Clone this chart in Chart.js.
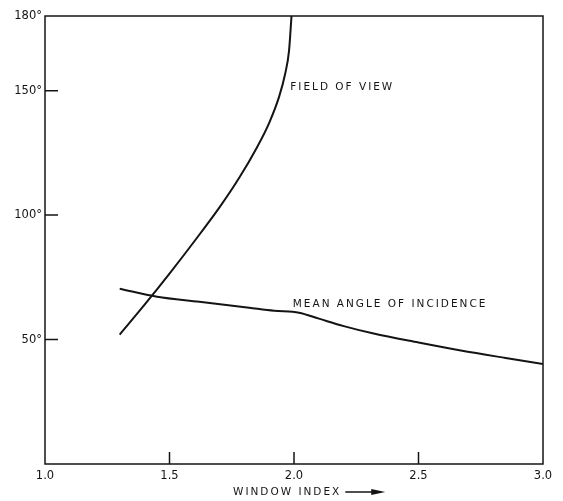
<!DOCTYPE html>
<html>
<head>
<meta charset="utf-8">
<script src="https://cdn.jsdelivr.net/npm/chart.js@4.4.1/dist/chart.umd.min.js"></script>
<style>
  html, body { margin: 0; padding: 0; background: #fff; }
  #wrap { width: 563px; height: 501px; }
</style>
</head>
<body>
<div id="wrap"><canvas id="myChart"></canvas></div>
<script>
// tick values
const xTicks = [1.0, 1.5, 2.0, 2.5, 3.0];
const yTicks = [50, 100, 150, 180];

// field of view curve
const fovIndex = [1.30, 1.40, 1.50, 1.60, 1.70, 1.78, 1.85, 1.90, 1.94, 1.965, 1.98, 1.99];
const fovAngle = [52, 64, 76.5, 89.5, 103, 115, 127, 137, 147.5, 157, 166, 180];

// mean angle of incidence curve
const meanIndex = [1.30, 1.45, 1.62, 1.82, 1.92, 2.02, 2.10, 2.20, 2.32, 2.50, 2.67, 2.85, 3.00];
const meanAngle = [70.4, 67.2, 65.2, 62.8, 61.6, 60.8, 58.4, 55.4, 52.4, 48.8, 45.6, 42.6, 40.2];

const INK = '#141414';
const FONT = '"DejaVu Sans", sans-serif';

const toPoints = (xs, ys) => xs.map((v, i) => ({ x: v, y: ys[i] }));

const framePlugin = {
  id: 'frame',
  afterDraw(chart) {
    const { ctx, chartArea: a, scales: { x, y } } = chart;
    ctx.save();
    ctx.strokeStyle = INK;
    ctx.lineWidth = 1.5;
    ctx.strokeRect(a.left, a.top, a.right - a.left, a.bottom - a.top);

    // inward tick marks
    ctx.beginPath();
    xTicks.slice(1, -1).forEach(v => {
      const px = x.getPixelForValue(v);
      ctx.moveTo(px, a.bottom);
      ctx.lineTo(px, a.bottom - 12);
    });
    yTicks.filter(v => v < 180).forEach(v => {
      const py = y.getPixelForValue(v);
      ctx.moveTo(a.left, py);
      ctx.lineTo(a.left + 13, py);
    });
    ctx.stroke();

    // curve labels
    ctx.fillStyle = INK;
    ctx.font = '10.5px ' + FONT;
    ctx.letterSpacing = '2px';
    ctx.textBaseline = 'middle';
    ctx.textAlign = 'left';
    ctx.fillText('FIELD OF VIEW', x.getPixelForValue(1.985), y.getPixelForValue(151.5));
    ctx.fillText('MEAN ANGLE OF INCIDENCE', x.getPixelForValue(1.995), y.getPixelForValue(64.3));

    // axis title with arrow
    const tx = a.left + 188, ty = 492;
    ctx.fillText('WINDOW INDEX', tx, ty);
    const w = ctx.measureText('WINDOW INDEX').width;
    ctx.beginPath();
    ctx.lineWidth = 1.3;
    ctx.moveTo(tx + w + 4, ty);
    ctx.lineTo(tx + w + 36, ty);
    ctx.stroke();
    ctx.beginPath();
    ctx.moveTo(tx + w + 44, ty);
    ctx.lineTo(tx + w + 30, ty - 3);
    ctx.lineTo(tx + w + 30, ty + 3);
    ctx.closePath();
    ctx.fill();
    ctx.restore();
  }
};

const configureChart = () => {
  return {
    type: 'line',
    data: {
      datasets: [
        {
          label: 'Field of view',
          data: toPoints(fovIndex, fovAngle),
          borderColor: INK,
          borderWidth: 2,
          pointRadius: 0,
          cubicInterpolationMode: 'monotone',
          fill: false
        },
        {
          label: 'Mean angle of incidence',
          data: toPoints(meanIndex, meanAngle),
          borderColor: INK,
          borderWidth: 2,
          pointRadius: 0,
          cubicInterpolationMode: 'monotone',
          fill: false
        }
      ]
    },
    options: {
      responsive: true,
      maintainAspectRatio: false,
      animation: false,
      layout: { padding: { top: 16, right: 20, left: 0, bottom: 0 } },
      plugins: {
        legend: { display: false },
        tooltip: { enabled: false }
      },
      scales: {
        x: {
          type: 'linear',
          min: 1,
          max: 3,
          afterBuildTicks: (s) => { s.ticks = xTicks.map(v => ({ value: v })); },
          afterFit: (s) => { s.height = 37; },
          grid: { display: false, drawTicks: false },
          border: { display: false },
          ticks: {
            color: INK,
            padding: 5,
            font: { family: FONT, size: 11.5 },
            callback: (v) => Number(v).toFixed(1)
          }
        },
        y: {
          type: 'linear',
          min: 0,
          max: 180,
          afterBuildTicks: (s) => { s.ticks = yTicks.map(v => ({ value: v })); },
          afterFit: (s) => { s.width = 45; },
          grid: { display: false, drawTicks: false },
          border: { display: false },
          ticks: {
            color: INK,
            padding: 3,
            font: { family: FONT, size: 11.5 },
            callback: (v) => v + '°'
          }
        }
      }
    },
    plugins: [framePlugin]
  };
};

const renderChart = () => {
  const ctx = document.getElementById('myChart');
  new Chart(ctx, configureChart());
};

window.onload = () => {
  renderChart();
};
</script>
</body>
</html>
